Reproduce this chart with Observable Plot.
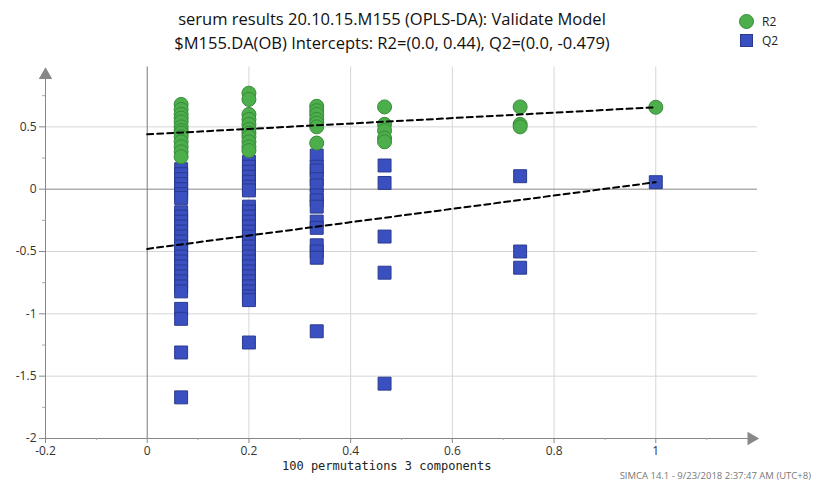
<!DOCTYPE html>
<html>
<head>
<meta charset="utf-8">
<script src="https://cdn.jsdelivr.net/npm/d3@7"></script>
<script src="https://cdn.jsdelivr.net/npm/@observablehq/plot@0.6"></script>
<style>
  body { margin: 0; background: #fff; font-family: "Open Sans", sans-serif; }
  #wrap { position: relative; width: 814px; height: 482px; }
  #title { position: absolute; left: 0; width: 784px; top: 7px; text-align: center; font-size: 16.5px; line-height: 24px; color: #111; }
  #legend { position: absolute; left: 739px; top: 12px; font-size: 12px; color: #222; }
  #legend div { height: 19px; display: flex; align-items: center; }
  #legend .c { width: 15px; height: 15px; border-radius: 50%; background: #4caf4c; border: 1px solid #3a8a3a; box-sizing: border-box; margin-right: 8px; }
  #legend .s { width: 13px; height: 13px; background: #3a4fc0; border: 1px solid #2a3a8e; box-sizing: border-box; margin-right: 9px; margin-left: 1px; }
  #xlabel { position: absolute; left: 282px; top: 459px; font-family: "DejaVu Sans Mono", monospace; font-size: 12px; color: #222; }
  #footer { position: absolute; right: 3px; top: 469px; font-size: 9.5px; color: #777; }
</style>
</head>
<body>
<div id="wrap">
  <div id="chart"></div>
  <div id="title">serum results 20.10.15.M155 (OPLS-DA): Validate Model<br>$M155.DA(OB) Intercepts: R2=(0.0, 0.44), Q2=(0.0, -0.479)</div>
  <div id="legend"><div><span class="c"></span>R2</div><div><span class="s"></span>Q2</div></div>
  <div id="xlabel">100 permutations 3 components</div>
  <div id="footer">SIMCA 14.1 - 9/23/2018 2:37:47 AM (UTC+8)</div>
</div>
<script>
// Permutation correlation (x) for each column
const permX = [0.0667, 0.2, 0.3333, 0.4667, 0.7333, 1.0];

// R2 values per column
const r2Col1 = [0.68, 0.64, 0.6, 0.57, 0.54, 0.5, 0.47, 0.45, 0.42, 0.38, 0.34, 0.3, 0.26];
const r2Col2 = [0.77, 0.72, 0.6, 0.56, 0.52, 0.48, 0.45, 0.42, 0.38, 0.34, 0.31];
const r2Col3 = [0.665, 0.63, 0.6, 0.56, 0.53, 0.5, 0.37];
const r2Col4 = [0.66, 0.52, 0.47, 0.41, 0.38];
const r2Col5 = [0.66, 0.52, 0.5];
const r2Col6 = [0.657];

// Q2 values per column
const q2Col1 = [0.16, 0.12, 0.08, 0.04, 0.0, -0.04, -0.07, -0.185, -0.22, -0.26, -0.3, -0.34, -0.38, -0.42, -0.46, -0.5, -0.54, -0.58, -0.62, -0.66, -0.7, -0.74, -0.78, -0.82, -0.96, -1.04, -1.31, -1.67];
const q2Col2 = [0.22, 0.18, 0.14, 0.1, 0.06, 0.02, -0.01, -0.14, -0.18, -0.22, -0.26, -0.3, -0.34, -0.38, -0.42, -0.46, -0.5, -0.54, -0.58, -0.62, -0.66, -0.7, -0.74, -0.78, -0.82, -0.86, -0.89, -1.23];
const q2Col3 = [0.27, 0.18, 0.15, 0.08, 0.03, -0.05, -0.09, -0.14, -0.26, -0.31, -0.45, -0.5, -0.55, -1.14];
const q2Col4 = [0.19, 0.05, -0.38, -0.67, -1.56];
const q2Col5 = [0.104, -0.5, -0.63];
const q2Col6 = [0.056];

// Regression lines (intercept at 0, original model at 1)
const lineX = [0, 1];
const r2LineY = [0.44, 0.657];
const q2LineY = [-0.479, 0.056];

// Tick values
const xTicks = [-0.2, 0, 0.2, 0.4, 0.6, 0.8, 1];
const xMinorTicks = [-0.1, 0.1, 0.3, 0.5, 0.7, 0.9, 1.1];
const yTicks = [-2, -1.5, -1, -0.5, 0, 0.5];
const yMinorTicks = [-1.75, -1.25, -0.75, -0.25, 0.25, 0.75];
const xGrid = [0.2, 0.4, 0.6, 0.8, 1];
const yGrid = [-1.5, -1, -0.5, 0.5];

const r2Cols = [r2Col1, r2Col2, r2Col3, r2Col4, r2Col5, r2Col6];
const q2Cols = [q2Col1, q2Col2, q2Col3, q2Col4, q2Col5, q2Col6];
const r2Data = r2Cols.flatMap((col, i) => col.map(v => ({x: permX[i], y: v})));
const q2Data = q2Cols.flatMap((col, i) => col.map(v => ({x: permX[i], y: v})));
const r2Line = lineX.map((x, i) => ({x, y: r2LineY[i]}));
const q2Line = lineX.map((x, i) => ({x, y: q2LineY[i]}));

const xMin = -0.2, xMax = 1.2, yMin = -2, yMax = 0.96;
const axisColor = "#888";

const chart = Plot.plot({
  width: 814,
  height: 482,
  marginLeft: 45,
  marginRight: 57,
  marginTop: 69,
  marginBottom: 44,
  style: {fontFamily: "Open Sans, sans-serif", fontSize: "12px", color: "#333", background: "#fff"},
  x: {domain: [xMin, xMax], label: null},
  y: {domain: [yMin, yMax], label: null},
  marks: [
    Plot.gridX(xGrid, {stroke: "#d6d6d6", strokeOpacity: 1, y1: yMin, y2: yMax + 0.02}),
    Plot.gridY(yGrid, {stroke: "#d6d6d6", strokeOpacity: 1}),
    Plot.ruleX([0], {stroke: "#777", y1: yMin, y2: yMax + 0.02}),
    Plot.ruleY([0], {stroke: "#888"}),
    Plot.ruleY([yMin], {stroke: axisColor}),
    Plot.ruleX([xMin], {stroke: axisColor}),
    Plot.axisX(xTicks, {tickSize: 5, tickPadding: 3, stroke: axisColor, fill: "#333", fontSize: 12, tickFormat: d => String(d)}),
    Plot.axisX(xMinorTicks, {tickSize: 2, stroke: "#aaa", tickFormat: () => ""}),
    Plot.axisY(yTicks, {tickSize: 6, tickPadding: 3, stroke: axisColor, fill: "#333", fontSize: 12, tickFormat: d => String(d)}),
    Plot.axisY(yMinorTicks, {tickSize: 3, stroke: "#aaa", tickFormat: () => ""}),
    Plot.dot([{x: xMin, y: 0.915}], {x: "x", y: "y", symbol: "triangle", r: 5, fill: axisColor, stroke: "none"}),
    Plot.dot([{x: 1.188, y: yMin}], {x: "x", y: "y", symbol: "triangle", r: 5, fill: axisColor, stroke: "none", rotate: 90}),
    Plot.dot(q2Data, {x: "x", y: "y", symbol: "square", r: 7.3, fill: "#3a4fc0", stroke: "#2a3a8e", strokeWidth: 1}),
    Plot.dot(r2Data, {x: "x", y: "y", symbol: "circle", r: 7, fill: "#4caf4c", stroke: "#3a8a3a", strokeWidth: 1}),
    Plot.line(r2Line, {x: "x", y: "y", stroke: "#000", strokeWidth: 2, strokeDasharray: "6,4"}),
    Plot.line(q2Line, {x: "x", y: "y", stroke: "#000", strokeWidth: 2, strokeDasharray: "6,4"})
  ]
});
document.getElementById("chart").appendChild(chart);
</script>
</body>
</html>
